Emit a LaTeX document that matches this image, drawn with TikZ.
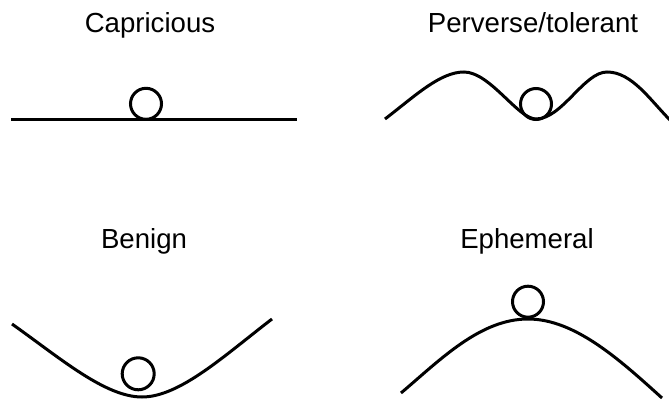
\documentclass[tikz,border=0pt]{standalone}
\usepackage{fontspec}
\setmainfont{Liberation Sans}
\usepackage{tikz}
\begin{document}
\begin{tikzpicture}[x=1pt,y=-1pt,
  title/.style={anchor=base,inner sep=0pt,font=\fontsize{27.6}{32}\selectfont},
  ground/.style={line width=3pt,line cap=butt},
  ball/.style={line width=3pt}]
\useasboundingbox (0,0) rectangle (669,403);
\node[title] (capricious) at (150,33) {Capricious};
\node[title] (perverse) at (533,33) {Perverse/tolerant};
\node[title] (benign) at (144,249) {Benign};
\node[title] (ephemeral) at (527,249) {Ephemeral};
\draw[ground] (11,119.5) -- (297,119.5);
\draw[ball] (146,103.8) circle (15.5);
\draw[ground] (385,119) .. controls (415,96) and (440,72) .. (464,72)
  .. controls (490,72) and (518,119) .. (536,119)
  .. controls (562,119) and (584,72) .. (607,72)
  .. controls (632,72) and (650,100) .. (670,120);
\draw[ball] (536,104) circle (15.5);
\draw[ground] (12,324) .. controls (60,358) and (105,397) .. (142,397)
  .. controls (180,397) and (225,355) .. (272,319);
\draw[ball] (138.2,373.8) circle (16);
\draw[ground] (401,393) .. controls (440,360) and (480,319) .. (528,319)
  .. controls (575,319) and (620,360) .. (662,398);
\draw[ball] (528,301.7) circle (15.5);
\end{tikzpicture}
\end{document}
